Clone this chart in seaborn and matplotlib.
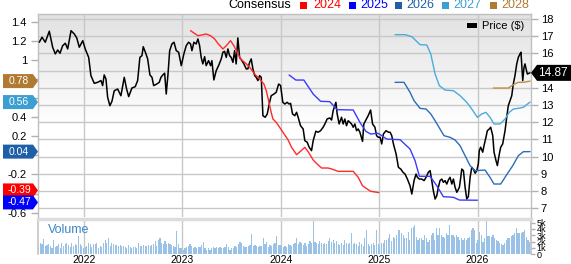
import numpy as np
import pandas as pd
import matplotlib
matplotlib.use("Agg")
import matplotlib.pyplot as plt
import seaborn as sns
from matplotlib.patches import Polygon, Rectangle

# ---------------- data ----------------
year_labels = ["2022", "2023", "2024", "2025", "2026"]
price_ticks = [7, 8, 9, 10, 11, 12, 13, 14, 15, 16, 17, 18]
eps_ticks = [1.4, 1.2, 1.0, 0.8, 0.6, 0.4, 0.2, 0.0, -0.2, -0.4, -0.6]
vol_ticks = [0, 1, 2, 3, 4, 5]
vol_tick_labels = ["0", "1k", "2k", "3k", "4k", "5k"]

price_t = [
    2021.542, 2021.570, 2021.603, 2021.644, 2021.678, 2021.705, 2021.729, 2021.753, 2021.780, 2021.807,
    2021.831, 2021.865, 2021.898, 2021.923, 2021.949, 2021.984, 2022.010, 2022.045, 2022.068, 2022.102,
    2022.136, 2022.170, 2022.187, 2022.203, 2022.221, 2022.238, 2022.261, 2022.282, 2022.305, 2022.340,
    2022.373, 2022.407, 2022.431, 2022.452, 2022.485, 2022.519, 2022.543, 2022.566, 2022.587, 2022.600,
    2022.628, 2022.645, 2022.668, 2022.689, 2022.706, 2022.737, 2022.763, 2022.780,
    2022.801, 2022.818, 2022.834, 2022.852, 2022.869, 2022.892, 2022.913, 2022.936, 2022.960, 2022.987,
    2023.014, 2023.038, 2023.062, 2023.082, 2023.096, 2023.116, 2023.139, 2023.157, 2023.174, 2023.190,
    2023.207, 2023.225, 2023.241, 2023.265, 2023.286, 2023.299, 2023.319, 2023.343, 2023.367, 2023.394,
    2023.411, 2023.428, 2023.445, 2023.462, 2023.479, 2023.495, 2023.513, 2023.530, 2023.546, 2023.563,
    2023.581, 2023.604, 2023.625, 2023.648, 2023.665, 2023.683, 2023.699, 2023.716, 2023.734, 2023.750,
    2023.767, 2023.784, 2023.801, 2023.818, 2023.841, 2023.862, 2023.886, 2023.902, 2023.930, 2023.953,
    2023.978, 2023.998, 2024.021,
    2024.042, 2024.065, 2024.085, 2024.100, 2024.120, 2024.143, 2024.161, 2024.177, 2024.201, 2024.228,
    2024.245, 2024.269, 2024.289, 2024.313, 2024.330, 2024.357, 2024.380, 2024.405, 2024.431, 2024.449,
    2024.472, 2024.499, 2024.517, 2024.533, 2024.561, 2024.574, 2024.594, 2024.618, 2024.635, 2024.652,
    2024.669, 2024.686, 2024.703, 2024.720, 2024.737, 2024.754, 2024.771, 2024.788, 2024.805, 2024.832,
    2024.845, 2024.866, 2024.889, 2024.914, 2024.934, 2024.958, 2024.975, 2024.991, 2025.008, 2025.025,
    2025.042, 2025.069, 2025.093, 2025.110, 2025.127, 2025.144, 2025.171, 2025.195, 2025.219, 2025.239,
    2025.262, 2025.286, 2025.313, 2025.331, 2025.354, 2025.374, 2025.388, 2025.408, 2025.432, 2025.456,
    2025.476, 2025.499, 2025.517, 2025.534, 2025.550, 2025.568, 2025.585, 2025.601, 2025.618, 2025.636,
    2025.652, 2025.669, 2025.687, 2025.703, 2025.720, 2025.738, 2025.754, 2025.771, 2025.789, 2025.815,
    2025.829, 2025.839, 2025.856, 2025.873, 2025.890, 2025.906, 2025.924, 2025.941, 2025.957, 2025.975,
    2025.992, 2026.008, 2026.018, 2026.032, 2026.053, 2026.066, 2026.086, 2026.100, 2026.120, 2026.134,
    2026.155, 2026.168, 2026.188, 2026.202, 2026.222, 2026.236, 2026.256, 2026.280, 2026.297, 2026.313,
    2026.330, 2026.348, 2026.364, 2026.381, 2026.399, 2026.415, 2026.432, 2026.442, 2026.460, 2026.473,
    2026.483, 2026.494, 2026.507, 2026.524, 2026.534,
]
price_v = [
    16.65, 16.94, 16.65, 17.29, 16.36, 15.97, 16.20, 16.01, 16.45, 16.59,
    16.26, 17.32, 17.13, 16.90, 16.36, 16.74, 16.26, 15.77, 14.71, 14.26,
    14.32, 14.42, 14.13, 14.75, 14.51, 13.45, 12.96, 13.22, 13.83, 13.93,
    13.54, 14.61, 13.93, 13.49, 13.99, 14.07, 14.42, 15.77, 15.87, 16.39,
    15.97, 15.68, 14.75, 14.61, 14.13, 14.22, 14.32, 14.61,
    14.76, 14.85, 13.64, 14.80, 16.16, 16.55, 16.65, 16.16, 16.07, 15.29,
    15.97, 16.45, 16.65, 16.55, 16.16, 16.65, 16.55, 16.84, 16.45, 15.77,
    15.39, 15.81, 15.29, 15.58, 15.29, 15.58, 14.46, 15.00, 15.29, 15.68,
    16.07, 16.12, 15.77, 16.26, 15.87, 15.77, 15.48, 16.16, 15.39, 16.90,
    15.77, 15.58, 15.39, 15.10, 15.10, 15.48, 15.68, 15.10, 14.71, 14.61,
    14.42, 14.71, 14.61, 12.38, 12.29, 12.48, 13.16, 13.54, 13.64, 13.74,
    14.22, 14.13, 13.16,
    13.06, 13.16, 13.06, 13.10, 12.48, 12.38, 12.58, 12.29, 11.80, 11.61,
    10.93, 10.84, 10.55, 10.35, 10.93, 11.48, 11.42, 11.51, 11.71, 11.90,
    12.19, 12.25, 12.13, 12.67, 13.16, 12.48, 11.90, 12.29, 11.90, 12.19,
    11.80, 12.09, 12.00, 11.90, 11.71, 11.90, 11.51, 11.61, 11.42, 10.89,
    11.90, 12.13, 12.38, 12.71, 11.90, 11.71, 11.22, 11.13, 11.13, 10.74,
    11.32, 11.51, 11.42, 11.42, 11.22, 10.74, 10.16, 9.38, 9.28, 9.11,
    8.99, 8.70, 8.31, 7.83, 8.61, 8.99, 8.80, 8.70, 8.70, 8.61,
    8.80, 9.09, 9.19, 8.61, 8.02, 7.54, 7.73, 8.22, 8.61, 8.70,
    8.51, 8.61, 8.41, 8.65, 8.80, 8.41, 8.70, 8.22, 7.93, 8.22,
    8.80, 9.28, 9.19, 8.22, 7.54, 7.68, 8.80, 9.38, 9.28, 9.04,
    9.19, 9.58, 10.35, 10.55, 10.26, 10.64, 11.13, 11.51, 11.61, 11.71,
    11.22, 10.26, 9.77, 9.48, 10.16, 10.55, 10.74, 11.51, 12.29, 12.96,
    13.25, 13.54, 14.22, 14.71, 15.39, 15.77, 15.97, 16.07, 14.42, 15.19,
    15.39, 15.10, 14.80, 14.85, 14.87,
]
last_price = 14.87

eps2024_t = [2023.082, 2023.157, 2023.241, 2023.286, 2023.327, 2023.360, 2023.411, 2023.445, 2023.489, 2023.523,
             2023.556, 2023.591, 2023.632, 2023.683, 2023.734, 2023.784, 2023.828, 2023.852, 2023.876, 2023.902,
             2023.920, 2023.953, 2023.988, 2024.024, 2024.075, 2024.110, 2024.161, 2024.201, 2024.245, 2024.279,
             2024.330, 2024.370, 2024.415, 2024.482, 2024.517, 2024.584, 2024.737, 2024.788, 2024.832, 2024.879,
             2024.914, 2024.998]
eps2024_v = [1.309, 1.256, 1.274, 1.256, 1.222, 1.176, 1.117, 1.151, 1.204, 1.151,
             1.082, 1.012, 0.977, 0.925, 0.854, 0.802, 0.749, 0.679, 0.574, 0.452,
             0.382, 0.348, 0.295, 0.240, 0.162, 0.085, 0.008, 0.043, 0.085, 0.039,
             -0.048, -0.090, -0.132, -0.132, -0.142, -0.167, -0.167, -0.230, -0.318, -0.352,
             -0.376, -0.39]

eps2025_t = [2024.085, 2024.154, 2024.235, 2024.330, 2024.405, 2024.499, 2024.574, 2024.737, 2024.805, 2024.866,
             2024.914, 2024.991, 2025.076, 2025.212, 2025.313, 2025.364, 2025.408, 2025.517, 2025.585, 2025.652,
             2025.754, 2025.815, 2025.998]
eps2025_v = [0.844, 0.791, 0.791, 0.644, 0.568, 0.564, 0.480, 0.477, 0.348, 0.253,
             0.225, 0.232, 0.172, 0.165, 0.067, -0.055, -0.219, -0.219, -0.318, -0.433,
             -0.439, -0.468, -0.47]

eps2026_t = [2025.161, 2025.252, 2025.313, 2025.354, 2025.415, 2025.476, 2025.524, 2025.568, 2025.618, 2025.659,
             2025.720, 2025.771, 2025.822, 2025.873, 2025.924, 2025.975, 2026.076, 2026.127, 2026.168, 2026.236,
             2026.290, 2026.358, 2026.415, 2026.466, 2026.534]
eps2026_v = [0.767, 0.767, 0.662, 0.574, 0.494, 0.487, 0.435, 0.364, 0.277, 0.207,
             0.190, 0.162, 0.102, -0.003, -0.108, -0.160, -0.153, -0.230, -0.300, -0.300,
             -0.213, -0.108, -0.003, 0.039, 0.04]

eps2027_t = [2025.161, 2025.262, 2025.331, 2025.415, 2025.483, 2025.524, 2025.568, 2025.611, 2025.669, 2025.754,
             2025.822, 2025.890, 2025.941, 2025.998, 2026.043, 2026.086, 2026.127, 2026.168, 2026.229, 2026.280,
             2026.323, 2026.364, 2026.415, 2026.466, 2026.534]
eps2027_v = [1.267, 1.267, 1.246, 1.162, 1.159, 1.064, 0.854, 0.732, 0.686, 0.679,
             0.627, 0.557, 0.487, 0.400, 0.435, 0.452, 0.400, 0.330, 0.330, 0.382,
             0.452, 0.487, 0.494, 0.505, 0.56]

eps2028_t = [2026.161, 2026.313, 2026.364, 2026.415, 2026.466, 2026.534]
eps2028_v = [0.707, 0.707, 0.742, 0.767, 0.767, 0.78]

# weekly volume, thousands of shares
volume_k = [
    2.0, 1.8, 1.6, 2.4, 1.3, 1.4, 1.6, 1.3, 0.9, 2.2, 1.2, 1.3, 1.6, 0.9, 1.8, 1.3, 1.6, 1.8, 1.4, 1.1,
    1.7, 1.3, 1.6, 1.4, 2.9, 1.6, 1.3, 0.9, 1.2, 1.3, 1.8, 1.6, 1.1, 1.6, 1.6, 1.8, 0.9, 1.3, 1.2, 1.8,
    2.2, 1.7, 2.5, 1.3, 1.8, 1.6, 1.4, 1.4, 1.3, 1.4, 1.3, 1.3, 1.1, 0.9, 1.4, 1.1, 0.9, 1.2, 1.1, 0.9,
    1.7, 1.3, 1.3, 1.4, 1.3, 1.3, 1.4, 1.3, 1.4, 1.6, 2.1, 1.3, 2.2, 2.6, 1.8, 1.6, 2.1, 1.6, 1.7, 1.6,
    1.4, 1.3, 1.2, 3.7, 1.6, 0.9, 0.9, 0.7, 0.9, 1.1, 1.3, 1.6, 1.3, 0.9, 1.2, 0.9, 1.1,
    1.1, 1.4, 2.0, 0.9, 0.7, 0.9, 0.7, 0.9, 1.1, 0.9, 1.1, 0.9, 1.1, 0.9, 0.9, 1.1, 1.6, 1.1, 0.7, 0.9,
    0.9, 1.3, 1.2, 1.6, 2.0, 1.8, 1.3, 1.2, 1.1, 1.3, 1.4, 3.2, 1.3, 1.4, 1.3, 1.2, 1.3, 1.3, 2.5, 1.6,
    2.0, 1.2, 1.4, 1.3, 1.6, 1.8, 2.9, 1.4, 1.4, 1.3, 1.2, 1.3, 1.2, 1.6, 1.4, 1.3, 1.6, 1.7, 2.5, 1.6,
    2.0, 1.7, 1.4, 1.8, 1.3, 1.6, 2.1, 1.8, 5.3, 2.0, 1.8, 1.6, 2.1, 1.7, 1.6, 1.8, 1.6, 2.1, 2.6, 2.0,
    2.3, 1.7, 2.1, 1.6, 1.4, 1.8, 1.4, 2.2, 1.7, 1.6, 1.8, 3.4, 1.6, 1.8, 1.6, 1.3, 2.0, 1.6, 1.3, 2.5,
    3.8, 1.6, 1.3, 1.6, 1.8, 1.4, 3.8, 1.6, 1.3, 1.7, 1.8, 2.2, 2.3, 2.5, 3.2, 2.1, 2.8, 2.5, 3.0, 3.8,
    3.8, 3.3, 3.0, 2.5, 2.6, 3.5, 2.2, 4.1, 4.4, 4.6, 2.8, 2.2, 2.5, 2.5, 2.2, 3.0, 2.5, 2.0, 2.2, 3.0,
    3.3, 2.3, 4.1, 3.0, 4.1, 3.0, 2.8, 2.6, 3.3, 3.0, 4.6, 3.0, 3.0, 2.8, 3.0, 2.8, 2.3, 2.5, 2.2, 2.6,
    2.3, 2.5, 2.8, 3.8, 4.1, 3.9, 1.8, 2.2, 3.5, 3.0, 2.0, 2.5, 5.3, 2.9, 2.9, 2.8, 3.0, 2.5, 2.2, 2.1,
    1.8, 1.6, 1.4, 1.7, 2.3, 2.6, 2.5, 2.9, 3.0, 3.3, 4.1, 3.3, 3.4, 3.4, 3.5, 3.8, 2.8, 2.2, 2.0,
]
volume_start, volume_end = 2021.535, 2026.530

series = [
    ("2024", eps2024_t, eps2024_v, "#ff2a2a", "#ff0000", "#ff0000"),
    ("2025", eps2025_t, eps2025_v, "#3b3bff", "#0000ff", "#0000ff"),
    ("2026", eps2026_t, eps2026_v, "#2c6cbc", "#1f5fa8", "#1f5fa8"),
    ("2027", eps2027_t, eps2027_v, "#4aabdd", "#3b9fd2", "#3b9fd2"),
    ("2028", eps2028_t, eps2028_v, "#c08c48", "#b07a30", "#b07a30"),
]


def to_dt(years):
    out = []
    for y in years:
        yi = int(np.floor(y))
        out.append(pd.Timestamp(f"{yi}-01-01") + pd.Timedelta(days=(y - yi) * 365.25))
    return pd.to_datetime(out)


# ---------------- style ----------------
sns.set_theme(style="white")
plt.rcParams["font.family"] = ["Liberation Sans", "DejaVu Sans"]

W, H = 571, 264
fig = plt.figure(figsize=(W / 100, H / 100), dpi=100)
L, R, T, B = 38, 531, 14, 217
VT, VB = 219, 254

ax = fig.add_axes([L / W, 1 - B / H, (R - L) / W, (B - T) / H])
ax2 = ax.twinx()

xmin, xmax = to_dt([2021.529])[0], to_dt([2026.544])[0]
year_dates = pd.to_datetime([f"{y}-01-01" for y in year_labels])

# gradient background
n = 300
f = np.linspace(0, 1, n)
g = np.clip(0.885 + f * 0.115 / 0.55, None, 1.0)
grad = np.dstack([g, g, g]).reshape(n, 1, 3)
ax.imshow(grad, extent=(0, 1, 0, 1), transform=ax.transAxes, aspect="auto", zorder=0)

# price line
price_df = pd.DataFrame({"date": to_dt(price_t), "price": price_v})
sns.lineplot(data=price_df, x="date", y="price", ax=ax, color="black", linewidth=1.1,
             estimator=None, sort=False, zorder=3)

# EPS lines
for name, t, v, lc, tc, tagc in series:
    df = pd.DataFrame({"date": to_dt(t), "eps": v})
    sns.lineplot(data=df, x="date", y="eps", ax=ax2, color=lc, linewidth=1.0,
                 estimator=None, sort=False)

ax.set_xlim(xmin, xmax)
ax.set_ylim(6.495, 18.29)
ax2.set_ylim(-0.646, 1.484)
for a in (ax, ax2):
    a.set_xlabel("")
    a.set_ylabel("")

fig.canvas.draw()

# tag positions (pixels from bottom), pushed apart a little when they collide
tag_info = []
for name, t, v, lc, tc, tagc in series:
    tag_info.append([ax2.transData.transform((0, v[-1]))[1], v[-1], tagc])
tag_info.sort(key=lambda r: -r[0])
for _ in range(5):
    for i in range(len(tag_info) - 1):
        gap = tag_info[i][0] - tag_info[i + 1][0]
        if gap < 12:
            d = (12 - gap) / 2
            tag_info[i][0] += d
            tag_info[i + 1][0] -= d
price_tag_y = ax.transData.transform((0, last_price))[1]


def hidden(pix, centers, half):
    return any(abs(pix - c) < half for c in centers)


ax.set_axisbelow(True)
ax.set_xticks(year_dates)
ax.set_yticks(price_ticks)
ax.set_yticklabels(["" if hidden(ax.transData.transform((0, p))[1], [price_tag_y], 9) else str(p)
                    for p in price_ticks])
ax.grid(True, color="#c8c8c8", linewidth=1.0)
ax.yaxis.tick_right()
ax.tick_params(axis="y", right=True, left=False, length=5, width=1, color="#b0b0b0",
               pad=2, labelsize=8, labelcolor="black")
ax.tick_params(axis="x", bottom=False, labelbottom=False)

tag_centers = [r[0] for r in tag_info]
ax2.set_yticks(eps_ticks)
ax2.set_yticklabels(["" if hidden(ax2.transData.transform((0, e))[1], tag_centers, 8)
                     else (f"{e:g}" if abs(e) > 1e-9 else "0") for e in eps_ticks])
ax2.yaxis.tick_left()
ax2.tick_params(axis="y", left=True, right=False, length=5, width=1, color="#b0b0b0",
                pad=3, labelsize=8, labelcolor="black")
ax2.tick_params(axis="x", bottom=False, labelbottom=False)

for s in ["top", "left", "right"]:
    ax.spines[s].set_color("#c0c0c0")
    ax.spines[s].set_linewidth(1.0)
ax.spines["bottom"].set_visible(False)
for s in ax2.spines.values():
    s.set_visible(False)

# volume panel
axv = fig.add_axes([L / W, 1 - VB / H, (R - L) / W, (VB - VT) / H])
vol_dates = pd.date_range(to_dt([volume_start])[0], to_dt([volume_end])[0], periods=len(volume_k))
axv.bar(vol_dates, volume_k, width=4.5, color="#99c2e6", linewidth=0)
axv.set_xlim(xmin, xmax)
axv.set_ylim(0, 5.6)
axv.set_xticks(year_dates)
axv.set_xticklabels(year_labels)
axv.set_axisbelow(True)
axv.grid(True, axis="x", color="#c8c8c8", linewidth=1.0)
axv.grid(False, axis="y")
axv.tick_params(axis="x", bottom=False, length=0, pad=0.5, labelsize=7.5, labelcolor="black")
axv.yaxis.tick_right()
axv.set_yticks(vol_ticks)
axv.set_yticklabels(vol_tick_labels)
axv.tick_params(axis="y", right=True, left=False, length=3, width=1, color="#b0b0b0",
                pad=1, labelsize=6.5, labelcolor="black")
axv.spines["top"].set_color("#dcdcdc")
axv.spines["top"].set_linewidth(2.5)
axv.spines["bottom"].set_visible(False)
axv.spines["left"].set_color("#c8c8c8")
axv.spines["right"].set_color("#c0c0c0")
axv.text(0.02, 0.68, "Volume", transform=axv.transAxes, color="#3a88c8", fontsize=9, va="center")


# ---------------- annotations ----------------
def fig_pt(x, y):
    return (x / W, y / H)


# left EPS value tags (lowest value drawn last, on top)
for yc, val, tagc in tag_info:
    x0, x1, xt, hh = 3, 33, 38, 7
    pts = [fig_pt(x0, yc - hh), fig_pt(x1, yc - hh), fig_pt(xt, yc), fig_pt(x1, yc + hh), fig_pt(x0, yc + hh)]
    fig.add_artist(Polygon(pts, closed=True, facecolor=tagc, edgecolor="none", transform=fig.transFigure))
    fig.text((x0 + x1) / 2 / W + 1 / W, yc / H, f"{val:.2f}", color="white", fontsize=7.5,
             ha="center", va="center")

# right price tag
yc = price_tag_y
pts = [fig_pt(531, yc), fig_pt(537, yc - 8), fig_pt(571, yc - 8), fig_pt(571, yc + 8), fig_pt(537, yc + 8)]
fig.add_artist(Polygon(pts, closed=True, facecolor="black", edgecolor="none", transform=fig.transFigure))
fig.text(553 / W, yc / H, f"{last_price:.2f}", color="white", fontsize=8.5, ha="center", va="center")

# top legend
ytop = 1 - 5.5 / H
fig.text(228 / W, ytop, "Consensus", fontsize=9, va="center", ha="left", color="black")
legend_pos = [(300, 313), (348.5, 360), (395, 406.5), (442, 453), (490, 501)]
for (sq, tx), (name, t, v, lc, tc, tagc) in zip(legend_pos, series):
    fig.add_artist(Rectangle((sq / W, 1 - 9 / H), 7 / W, 7 / H, facecolor=tagc, edgecolor="none",
                             transform=fig.transFigure))
    fig.text(tx / W, ytop, name, fontsize=9, va="center", ha="left", color=tc)

# price legend inside plot
fig.add_artist(Rectangle((467 / W, 1 - 28 / H), 10 / W, 4.5 / H, facecolor="black", edgecolor="none",
                         transform=fig.transFigure))
fig.text(482 / W, 1 - 25.7 / H, "Price ($)", fontsize=8, va="center", ha="left", color="black")

fig.savefig("out.png", dpi=100)
